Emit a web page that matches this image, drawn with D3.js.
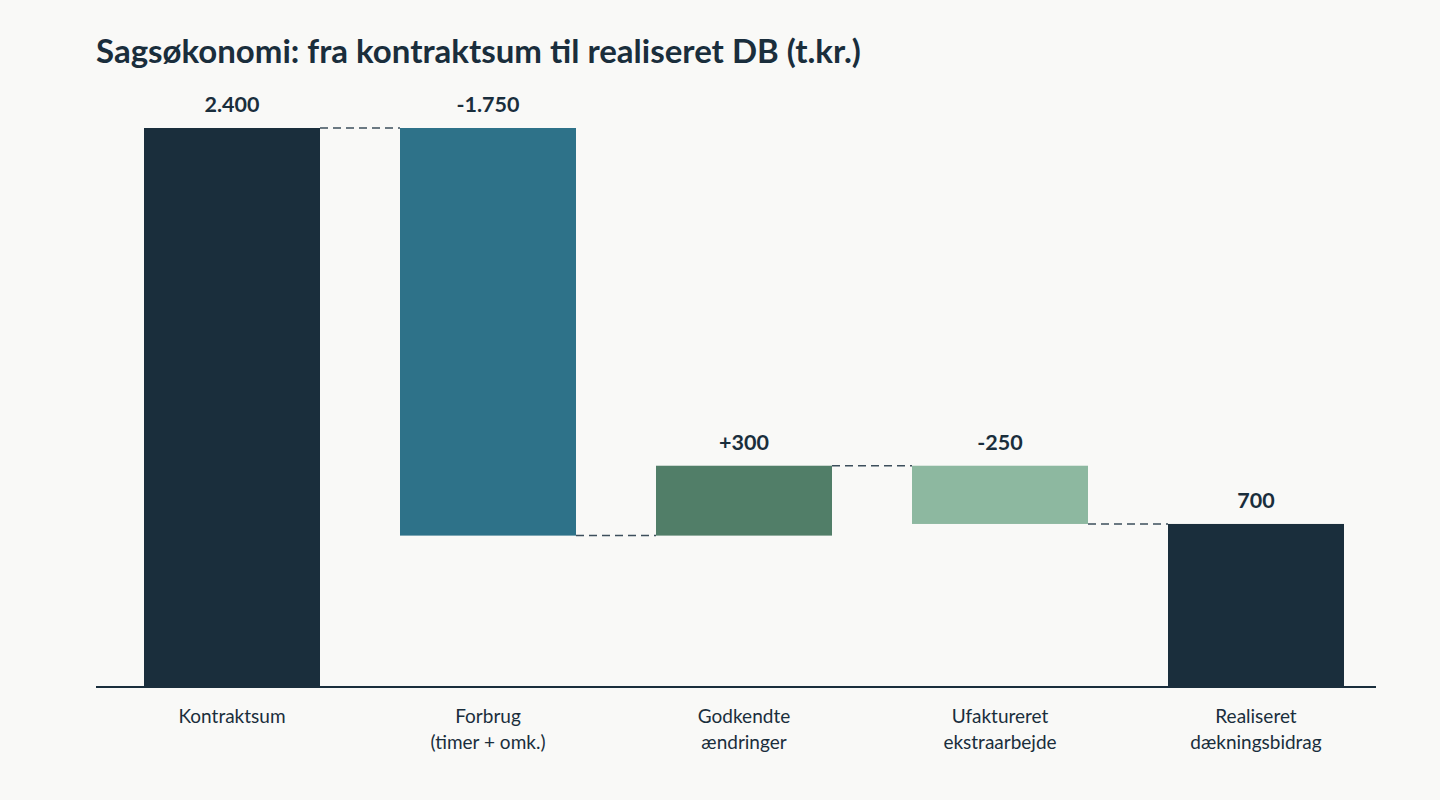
<!DOCTYPE html>
<html>
<head>
<meta charset="utf-8">
<script src="https://cdn.jsdelivr.net/npm/d3@7"></script>
<style>
  html, body { margin: 0; padding: 0; background: #f9f9f7; }
  svg { display: block; font-family: Lato, "Open Sans", sans-serif; }
</style>
</head>
<body>
<div id="chart"></div>
<script>
// Data (t.kr.)
const categories = [
  ["Kontraktsum"],
  ["Forbrug", "(timer + omk.)"],
  ["Godkendte", "ændringer"],
  ["Ufaktureret", "ekstraarbejde"],
  ["Realiseret", "dækningsbidrag"]
];
const values = [2400, -1750, 300, -250, 700];
const kinds = ["total", "delta", "delta", "delta", "total"];
const valueLabels = ["2.400", "-1.750", "+300", "-250", "700"];
const colors = ["#1a2e3c", "#2e7289", "#517e68", "#8db8a0", "#1a2e3c"];

const W = 1440, H = 800;
const left = 96, right = 1376, baseY = 687, topY = 128;

// running totals -> start/end of each bar
let running = 0;
const bars = values.map((v, i) => {
  let start, end;
  if (kinds[i] === "total") { start = 0; end = v; running = v; }
  else { start = running; end = running + v; running = end; }
  return { i, start, end, label: valueLabels[i], color: colors[i], cat: categories[i] };
});

const svg = d3.select("#chart").append("svg")
  .attr("width", W).attr("height", H)
  .style("background", "#f9f9f7");

const x = d3.scaleBand()
  .domain(d3.range(values.length))
  .range([left + 8, right + 8])
  .paddingInner(0.3125)
  .paddingOuter(0.15625);

const y = d3.scaleLinear()
  .domain([0, 2400])
  .range([baseY, topY]);

svg.append("text")
  .attr("x", left).attr("y", 63)
  .text("Sagsøkonomi: fra kontraktsum til realiseret DB (t.kr.)")
  .style("font-size", "33px")
  .style("font-weight", "700")
  .style("fill", "#1a2e3c");

// connectors
const conn = svg.append("g");
bars.slice(0, -1).forEach((b, i) => {
  conn.append("line")
    .attr("x1", x(i) + x.bandwidth())
    .attr("x2", x(i + 1))
    .attr("y1", y(b.end))
    .attr("y2", y(b.end))
    .attr("stroke", "#3d4f5c")
    .attr("stroke-width", 1.5)
    .attr("stroke-dasharray", "8,5");
});

svg.append("g").selectAll("rect")
  .data(bars)
  .enter().append("rect")
  .attr("x", d => x(d.i))
  .attr("width", x.bandwidth())
  .attr("y", d => y(Math.max(d.start, d.end)))
  .attr("height", d => Math.abs(y(d.start) - y(d.end)))
  .attr("fill", d => d.color);

svg.append("line")
  .attr("x1", left).attr("x2", right)
  .attr("y1", baseY).attr("y2", baseY)
  .attr("stroke", "#1a2e3c")
  .attr("stroke-width", 2);

svg.append("g").selectAll("text")
  .data(bars)
  .enter().append("text")
  .attr("x", d => x(d.i) + x.bandwidth() / 2)
  .attr("y", d => y(Math.max(d.start, d.end)) - 16)
  .attr("text-anchor", "middle")
  .text(d => d.label)
  .style("font-size", "21.5px")
  .style("font-weight", "700")
  .style("fill", "#1a2e3c");

const catG = svg.append("g").selectAll("text")
  .data(bars)
  .enter().append("text")
  .attr("text-anchor", "middle")
  .style("font-size", "19px")
  .style("fill", "#1a2e3c");

catG.selectAll("tspan")
  .data(d => d.cat.map(t => ({ t, cx: x(d.i) + x.bandwidth() / 2 })))
  .enter().append("tspan")
  .attr("x", d => d.cx)
  .attr("y", (d, j) => 723 + j * 26)
  .text(d => d.t);
</script>
</body>
</html>
